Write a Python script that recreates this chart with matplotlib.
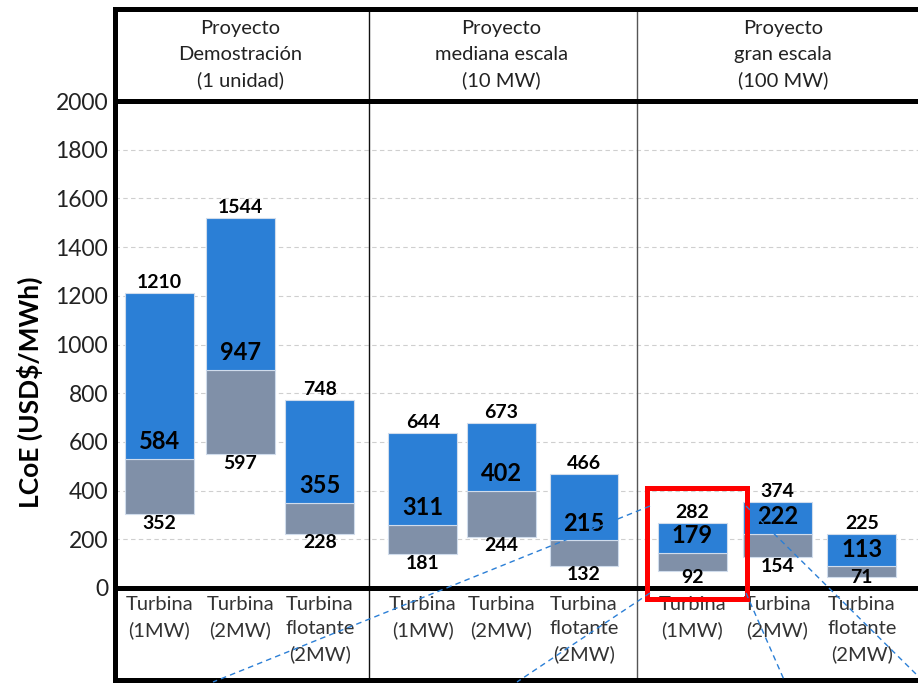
import matplotlib
matplotlib.use("Agg")
import matplotlib.pyplot as plt
from matplotlib.lines import Line2D
from matplotlib.patches import Rectangle

plt.rcParams['font.family'] = ['Lato', 'DejaVu Sans']

# data
groups = ['Proyecto\nDemostración\n(1 unidad)',
          'Proyecto\nmediana escala\n(10 MW)',
          'Proyecto\ngran escala\n(100 MW)']
categories = ['Turbina\n(1MW)', 'Turbina\n(2MW)', 'Turbina\nflotante\n(2MW)'] * 3
bar_low = [302, 550, 222, 138, 211, 92, 70, 126, 44]
bar_mid = [531, 897, 349, 260, 400, 196, 145, 222, 90]
bar_high = [1211, 1519, 773, 638, 676, 467, 268, 353, 220]
label_low = [352, 597, 228, 181, 244, 132, 92, 154, 71]
label_mid = [584, 947, 355, 311, 402, 215, 179, 222, 113]
label_high = [1210, 1544, 748, 644, 673, 466, 282, 374, 225]
yticks = list(range(0, 2001, 200))

# layout
xpos = [0, 1, 1.98, 3.25, 4.22, 5.24, 6.58, 7.63, 8.67]
group_centers = [1.0, 4.22, 7.70]
separators = [2.586, 5.895]
blue = '#2b7fd6'
gray = '#8090a8'
W, H = 918, 683

fig = plt.figure(figsize=(W / 100, H / 100), dpi=100)
ax = fig.add_axes([115 / W, (H - 588) / H, (W - 115) / W, 487 / H])
ax.set_xlim(-0.549, 9.364)
ax.set_ylim(0, 2000)

gray_h = [m - l for l, m in zip(bar_low, bar_mid)]
blue_h = [h - m for m, h in zip(bar_mid, bar_high)]
ax.bar(xpos, gray_h, bottom=bar_low, width=0.85, color=gray,
       edgecolor='#d0dcec', linewidth=0.8, zorder=3)
ax.bar(xpos, blue_h, bottom=bar_mid, width=0.85, color=blue,
       edgecolor='#d0dcec', linewidth=0.8, zorder=3)

for x, lo, mi, hi, tl, tm, th in zip(xpos, bar_low, bar_mid, bar_high,
                                      label_low, label_mid, label_high):
    ax.annotate(str(th), (x, hi), xytext=(0, 1.5), textcoords='offset points',
                ha='center', va='bottom', fontsize=14, fontweight='bold', zorder=9)
    # keep the lower value clear of the thick axis line
    ax.text(x, max(lo - 37, 45), str(tl), ha='center', va='center',
            fontsize=14, fontweight='bold', zorder=9)
    ax.annotate(str(tm), (x, mi), xytext=(0, 4), textcoords='offset points',
                ha='center', va='bottom', fontsize=17, fontweight='bold', zorder=9)

ax.set_yticks(yticks)
ax.set_yticklabels([str(v) for v in yticks], fontsize=16.5, color='#222222')
ax.set_xticks(xpos)
ax.set_xticklabels(categories, fontsize=14.5, color='#333333', linespacing=1.5)
ax.tick_params(axis='both', length=0)
ax.tick_params(axis='y', pad=5)
ax.tick_params(axis='x', pad=6)
ax.grid(axis='y', linestyle=(0, (4, 3)), color='#cfcfcf', linewidth=0.8, zorder=0)
for s in ax.spines.values():
    s.set_visible(False)

# header and footer frame
top, bot = 1.189, -0.189
thick = dict(color='black', linewidth=3.6, transform=ax.transAxes,
             clip_on=False, zorder=6, solid_capstyle='projecting')
for y in [top, 1, 0, bot]:
    ax.add_line(Line2D([0, 1], [y, y], **thick))
ax.add_line(Line2D([0, 0], [bot, top], **thick))
for sx, sc in zip(separators, ['#111111', '#555555']):
    ax.plot([sx, sx], [bot, top], transform=ax.get_xaxis_transform(),
            color=sc, linewidth=1.0, clip_on=False, zorder=4)

for gx, g in zip(group_centers, groups):
    ax.text(gx, 1.095, g, transform=ax.get_xaxis_transform(), ha='center',
            va='center', fontsize=14.5, color='#222222', linespacing=1.6)

fig.text(30 / W, 1 - 392 / H, 'LCoE (USD$/MWh)', rotation=90, ha='center',
         va='center', fontsize=19, fontweight='bold')

# highlight box around the large-scale 1MW case
ax.add_patch(Rectangle((xpos[6] - 0.56, -45), 1.23, 456, fill=False,
                       edgecolor='#ff0000', linewidth=3.6, clip_on=False, zorder=7))

# dashed callout lines
callouts = [((650, 506), (213, 682)), ((650, 593), (517, 682)),
            ((746, 506), (920, 678)), ((746, 593), (785, 682))]
for (x0, y0), (x1, y1) in callouts:
    fig.add_artist(Line2D([x0 / W, x1 / W], [1 - y0 / H, 1 - y1 / H],
                          color='#2b7fd6', linestyle='--', linewidth=1.0,
                          dashes=(4, 3), zorder=8))

fig.savefig('out.png', dpi=100)
